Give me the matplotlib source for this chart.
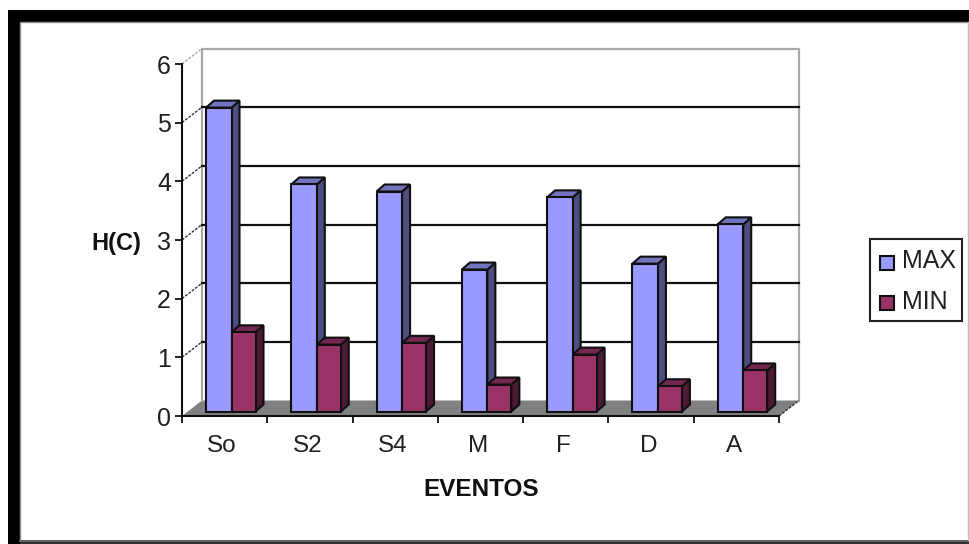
import matplotlib
matplotlib.use("Agg")
import matplotlib.pyplot as plt
from matplotlib.patches import Polygon, Rectangle

categories = ["So", "S2", "S4", "M", "F", "D", "A"]
max_values = [5.18, 3.87, 3.75, 2.42, 3.65, 2.52, 3.19]
min_values = [1.35, 1.14, 1.17, 0.46, 0.97, 0.43, 0.70]
y_ticks = [0, 1, 2, 3, 4, 5, 6]

W, H = 969, 544
plt.rcParams["font.family"] = ["Liberation Sans", "DejaVu Sans"]

fig = plt.figure(figsize=(W / 100, H / 100), dpi=100, facecolor="white")


def fig_box(x0, y0, x1, y1):
    return [x0 / W, 1 - y1 / H, (x1 - x0) / W, (y1 - y0) / H]


# Black picture frame around the white chart area
bg = fig.add_axes([0, 0, 1, 1], zorder=0)
bg.set_xlim(0, W)
bg.set_ylim(H, 0)
bg.axis("off")
bg.add_patch(Rectangle((8, 10), W - 8, H - 10, fc="black", ec="none"))
bg.add_patch(Rectangle((20, 22), W - 20, 518, fc="white", ec="none"))
bg.plot([20, 20, W], [540, 22, 22], color="#909090", lw=1)
bg.plot([20, W], [540.5, 540.5], color="#707070", lw=1.2)
bg.plot([W - 0.5, W - 0.5], [22, 540], color="#c0c0c0", lw=1)
bg.add_patch(Rectangle((20, 541), W - 20, 3, fc="#303030", ec="none"))

ax = fig.add_axes(fig_box(182, 64, 779, 416), zorder=1)
ax.set_xlim(0, 7)
ax.set_ylim(0, 6)
ax.patch.set_visible(False)

px_x = 7 / 597
px_y = 6 / 352
depth_x = 20 * px_x
depth_y = 15.5 * px_y

# Floor and back wall
ax.add_patch(Polygon([(0, 0), (7, 0), (7 + depth_x, depth_y), (depth_x, depth_y)],
                     closed=True, fc="#808080", ec="none", zorder=1, clip_on=False))
ax.plot([depth_x, depth_x, 7 + depth_x, 7 + depth_x],
        [depth_y, 6 + depth_y, 6 + depth_y, depth_y],
        color="#a8a8a8", lw=1.6, zorder=1.5, clip_on=False)

# Gridlines on the wall with slanted links to the axis
for v in y_ticks[1:]:
    if v < 6:
        ax.plot([depth_x, 7 + depth_x], [v + depth_y] * 2, color="#101010", lw=1.6,
                zorder=2, clip_on=False)
    ax.plot([0, depth_x], [v, v + depth_y], color="#303030" if v < 6 else "#a8a8a8",
            lw=1, ls=(0, (2, 1)), zorder=2, clip_on=False)
ax.plot([7, 7 + depth_x], [0, depth_y], color="#303030", lw=1, ls=(0, (2, 1)),
        zorder=2, clip_on=False)

# Bar layout inside each category, in category units
bar_w = 25.5 * px_x
bar_start = 24 * px_x
base = 4.5 * px_y
side_x = 8 * px_x
side_y = 7 * px_y
edge = dict(ec="#101010", lw=1.5, joinstyle="miter")


def draw_bar(left, width, value, face, top, side, z):
    right = left + width
    top_y = value + base
    ax.add_patch(Polygon([(right, base), (right + side_x, base + side_y),
                          (right + side_x, top_y + side_y), (right, top_y)],
                         closed=True, fc=side, zorder=z, **edge))
    ax.add_patch(Polygon([(left, top_y), (right, top_y),
                          (right + side_x, top_y + side_y), (left + side_x, top_y + side_y)],
                         closed=True, fc=top, zorder=z, **edge))
    ax.bar(left, value, width, bottom=base, align="edge", color=face, zorder=z + 0.2, **edge)


for i, (hi, lo) in enumerate(zip(max_values, min_values)):
    x0 = i + bar_start
    draw_bar(x0, bar_w, hi, "#9999ff", "#7373bf", "#4d4d80", 3 + i)
    draw_bar(x0 + bar_w, 24 * px_x, lo, "#993366", "#732650", "#4d1a33", 3.5 + i)

# Axes, ticks and labels
for name in ("top", "right"):
    ax.spines[name].set_visible(False)
for name in ("left", "bottom"):
    ax.spines[name].set_color("#101010")
    ax.spines[name].set_linewidth(1.5)
ax.set_yticks(y_ticks)
ax.set_xticks(range(8))
ax.set_xticklabels([])
ax.set_xticks([i + 0.47 for i in range(7)], minor=True)
ax.set_xticklabels(categories, minor=True, fontsize=17.5, color="#202020")
ax.tick_params(axis="x", which="major", length=5, width=1.3, color="#101010")
ax.tick_params(axis="x", which="minor", length=0, pad=14)
ax.tick_params(axis="y", length=5, width=1.3, color="#101010", labelsize=18,
               labelcolor="#202020", pad=3)

fig.text(116 / W, 1 - 243 / H, "H(C)", fontsize=17, fontweight="bold",
         ha="center", va="center", color="#101010")
fig.text(481 / W, 1 - 490 / H, "EVENTOS", fontsize=17.5, fontweight="bold",
         ha="center", va="center", color="#101010")

# Legend box
bg.add_patch(Rectangle((870, 239), 92, 82, fc="white", ec="#202020", lw=1.5))
for y, face, label in [(262.5, "#9999ff", "MAX"), (303, "#993366", "MIN")]:
    bg.add_patch(Rectangle((880.5, y - 7), 14, 14, fc=face, ec="#101010", lw=1.5))
    bg.text(902, y - 1, label, fontsize=18, ha="left", va="center", color="#202020")

fig.savefig("out.png", dpi=100)
